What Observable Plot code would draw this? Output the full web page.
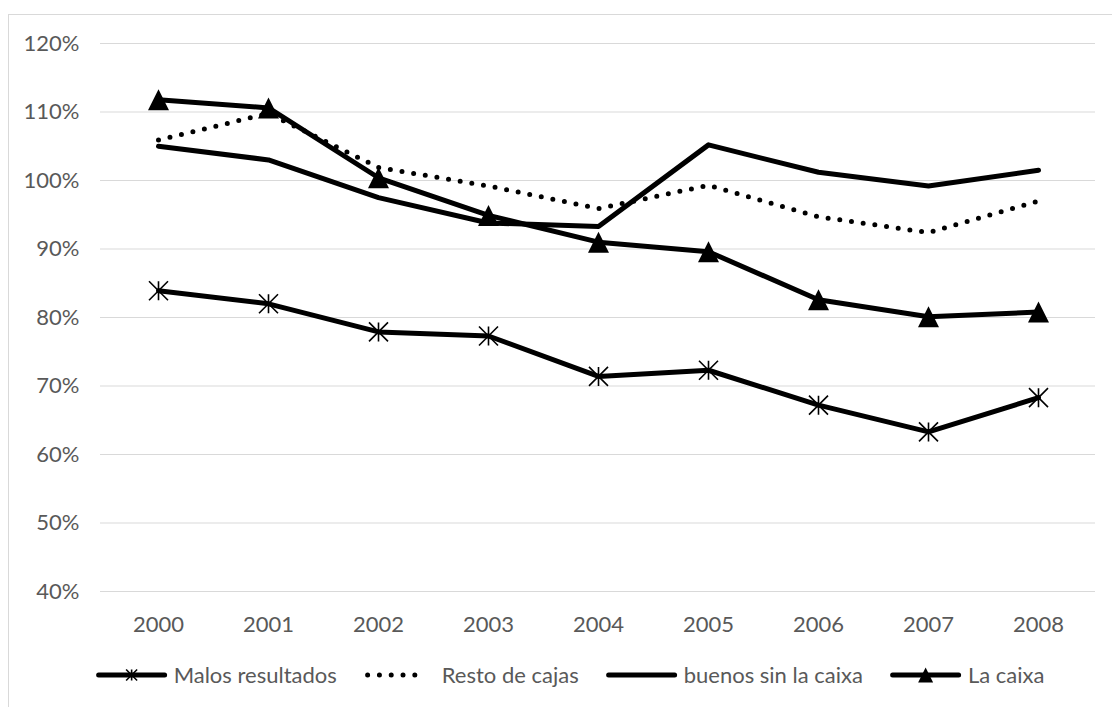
<!DOCTYPE html>
<html>
<head>
<meta charset="utf-8">
<script src="https://cdn.jsdelivr.net/npm/d3@7"></script>
<script src="https://cdn.jsdelivr.net/npm/@observablehq/plot@0.6"></script>
<style>
  html, body { margin: 0; padding: 0; background: #fff; overflow: hidden; width: 1112px; height: 707px; }
  #frame { position: absolute; left: 8px; top: 14px; width: 1300px; height: 900px; border: 1px solid #d9d9d9; box-sizing: border-box; }
  #chart { position: absolute; left: 0; top: 0; }
  #legend { position: absolute; top: 661px; left: 570px; transform: translateX(-50%); display: flex; align-items: center; gap: 27px; white-space: nowrap; font: 22px Lato, sans-serif; color: #595959; }
  #legend .item { display: flex; align-items: center; gap: 6px; }
  #legend svg { display: block; }
</style>
</head>
<body>
<div id="frame"></div>
<div id="chart"></div>
<div id="legend"></div>
<script>
// Years on the horizontal axis
const years = ["2000", "2001", "2002", "2003", "2004", "2005", "2006", "2007", "2008"];

// Series values (percent)
const malosResultados  = [83.9, 82.0, 77.9, 77.3, 71.4, 72.3, 67.2, 63.3, 68.3];
const restoDeCajas     = [105.9, 109.8, 101.9, 99.2, 95.9, 99.3, 94.7, 92.4, 97.0];
const buenosSinLaCaixa = [105.0, 103.0, 97.5, 93.8, 93.3, 105.2, 101.2, 99.2, 101.5];
const laCaixa          = [111.8, 110.6, 100.4, 94.9, 91.0, 89.6, 82.6, 80.1, 80.8];

// Vertical axis ticks
const yTicks = [40, 50, 60, 70, 80, 90, 100, 110, 120];

// Marker shapes: an asterisk (X plus vertical bar) and a box-centred triangle
const starSymbol = {
  draw(context, size) {
    const r = Math.sqrt(size / Math.PI);
    context.moveTo(-r, -r); context.lineTo(r, r);
    context.moveTo(-r, r); context.lineTo(r, -r);
    context.moveTo(0, -r); context.lineTo(0, r);
  }
};
const triangleSymbol = {
  draw(context, size) {
    const r = Math.sqrt(size / Math.PI);
    context.moveTo(0, -r);
    context.lineTo(r, r);
    context.lineTo(-r, r);
    context.closePath();
  }
};

const series = [
  {name: "Malos resultados", values: malosResultados, dotted: false, marker: "star"},
  {name: "Resto de cajas", values: restoDeCajas, dotted: true, marker: null},
  {name: "buenos sin la caixa", values: buenosSinLaCaixa, dotted: false, marker: null},
  {name: "La caixa", values: laCaixa, dotted: false, marker: "triangle"}
];

const rowsOf = s => years.map((year, i) => ({year, value: s.values[i], serie: s.name}));

const marks = [
  Plot.gridY(yTicks, {stroke: "#d9d9d9", strokeOpacity: 1, strokeWidth: 1}),
  Plot.axisY(yTicks, {tickSize: 0, tickPadding: 21, tickFormat: d => d + "%", label: null}),
  Plot.axisX({tickSize: 0, tickPadding: 25, label: null})
];

for (const s of series) {
  const rows = rowsOf(s);
  marks.push(Plot.line(rows, {
    x: "year", y: "value",
    stroke: "black", strokeWidth: 5,
    strokeLinejoin: "round", strokeLinecap: "round",
    strokeDasharray: s.dotted ? "0 11.8" : null
  }));
  if (s.marker === "star") {
    marks.push(Plot.dot(rows, {x: "year", y: "value", symbol: starSymbol, r: 9.5, fill: "none", stroke: "black", strokeWidth: 1.6}));
  } else if (s.marker === "triangle") {
    marks.push(Plot.dot(rows, {x: "year", y: "value", symbol: triangleSymbol, r: 10.5, fill: "black", stroke: "none"}));
  }
}

const chart = Plot.plot({
  width: 1112,
  height: 645,
  marginLeft: 100,
  marginRight: 17,
  marginTop: 43,
  marginBottom: 54,
  style: {fontFamily: "Lato, sans-serif", fontSize: "22px", color: "#595959", background: "transparent", overflow: "visible"},
  x: {type: "point", domain: years, padding: 0.5},
  y: {domain: [40, 120]},
  marks
});
document.getElementById("chart").appendChild(chart);

// Legend: line swatches with their markers
const legend = d3.select("#legend");
for (const s of series) {
  const item = legend.append("div").attr("class", "item");
  const svg = item.append("svg").attr("width", 72).attr("height", 18);
  const line = svg.append("line")
    .attr("x1", s.dotted ? 4 : 3).attr("x2", s.dotted ? 63 : 69)
    .attr("y1", 9).attr("y2", 9)
    .attr("stroke", "black")
    .attr("stroke-width", 5)
    .attr("stroke-linecap", "round");
  if (s.dotted) line.attr("stroke-dasharray", "0 11.8");
  if (s.marker === "star") {
    svg.append("path").attr("transform", "translate(36,9)")
      .attr("d", d3.symbol(starSymbol, Math.PI * 5.5 * 5.5)())
      .attr("fill", "none").attr("stroke", "black").attr("stroke-width", 1.6);
  } else if (s.marker === "triangle") {
    svg.append("path").attr("transform", "translate(36,9)")
      .attr("d", d3.symbol(triangleSymbol, Math.PI * 7.5 * 7.5)())
      .attr("fill", "black");
  }
  item.append("span").text(s.name);
}
</script>
</body>
</html>
